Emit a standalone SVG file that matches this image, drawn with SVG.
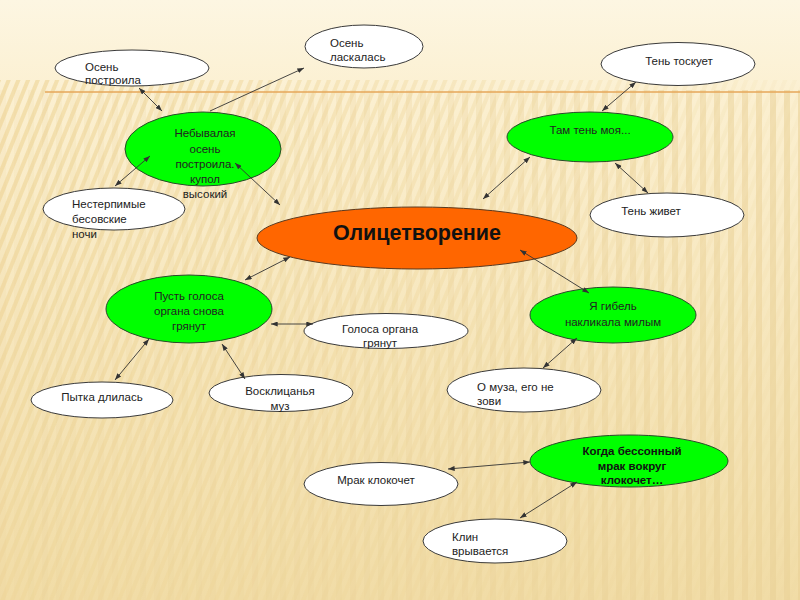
<svg xmlns="http://www.w3.org/2000/svg" width="800" height="600" viewBox="0 0 800 600">
<defs>
<linearGradient id="bg" x1="0" y1="0" x2="0" y2="1">
<stop offset="0" stop-color="#fdf6e2"/>
<stop offset="0.18" stop-color="#fbefcf"/>
<stop offset="1" stop-color="#f1dca6"/>
</linearGradient>
<pattern id="diag" width="9" height="9" patternUnits="userSpaceOnUse" patternTransform="rotate(22)">
<rect width="4" height="9" fill="#efd79c"/>
</pattern>
<pattern id="vert" width="14" height="14" patternUnits="userSpaceOnUse">
<rect width="6" height="14" fill="#e9d096"/>
</pattern>
<linearGradient id="fadeL" x1="0" y1="0" x2="1" y2="0">
<stop offset="0" stop-color="#fff" stop-opacity="0.7"/>
<stop offset="0.6" stop-color="#fff" stop-opacity="0.35"/>
<stop offset="1" stop-color="#fff" stop-opacity="0.1"/>
</linearGradient>
<mask id="mL"><rect x="0" y="80" width="800" height="520" fill="url(#fadeL)"/></mask>
<linearGradient id="fadeR" x1="0" y1="0" x2="1" y2="0">
<stop offset="0" stop-color="#fff" stop-opacity="0.1"/>
<stop offset="0.6" stop-color="#fff" stop-opacity="0.3"/>
<stop offset="1" stop-color="#fff" stop-opacity="0.55"/>
</linearGradient>
<mask id="mR"><rect x="0" y="90" width="800" height="510" fill="url(#fadeR)"/></mask>
<marker id="ah" viewBox="0 0 8 6" refX="8" refY="3" markerWidth="7" markerHeight="5" markerUnits="userSpaceOnUse" orient="auto-start-reverse">
<path d="M0,0 L8,3 L0,6 z" fill="#333"/>
</marker>
</defs>
<style>
.w{fill:#ffffff;stroke:#3a3a3a;stroke-width:1}
.g{fill:#00ff00;stroke:#2a4a2a;stroke-width:1}
.o{fill:#ff6600;stroke:#5a3a20;stroke-width:1}
text{font-family:"Liberation Sans",Arial,sans-serif;font-size:11.5px;fill:#222}
.c{text-anchor:middle}
.b{font-weight:bold;fill:#111}
.big{font-size:21.5px;font-weight:bold;fill:#111}
#connectors line{stroke:#333;stroke-width:0.9}
.two{marker-start:url(#ah);marker-end:url(#ah)}
.one{marker-end:url(#ah)}
</style>
<rect width="800" height="600" fill="url(#bg)"/>
<rect x="0" y="80" width="800" height="520" fill="url(#diag)" mask="url(#mL)"/>
<rect x="0" y="90" width="800" height="510" fill="url(#vert)" mask="url(#mR)"/>
<line x1="45" y1="92" x2="800" y2="92" stroke="#e6a75a" stroke-width="1.5"/>

<g id="n-osen-postroila">
<ellipse class="w" cx="132" cy="68" rx="77" ry="18"/>
<text x="85" y="71">Осень</text>
<text x="85" y="84">построила</text>
</g>
<g id="n-osen-laskalas">
<ellipse class="w" cx="364" cy="46.5" rx="59" ry="21.5"/>
<text x="330" y="47">Осень</text>
<text x="330" y="61">ласкалась</text>
</g>
<g id="n-nebyvalaya">
<ellipse class="g" cx="203" cy="149" rx="78" ry="37"/>
<text class="c" x="205" y="137">Небывалая</text>
<text class="c" x="205" y="153">осень</text>
<text class="c" x="205" y="168">построила.</text>
<text class="c" x="205" y="183">купол</text>
<text class="c" x="205" y="198">высокий</text>
</g>
<g id="n-nesterpimye">
<ellipse class="w" cx="114" cy="209" rx="71" ry="21"/>
<text x="72" y="208">Нестерпимые</text>
<text x="72" y="223">бесовские</text>
<text x="72" y="238">ночи</text>
</g>
<g id="n-olicetvorenie">
<ellipse class="o" cx="417" cy="238" rx="160" ry="31"/>
<text class="big c" x="417" y="240">Олицетворение</text>
</g>
<g id="n-tam-ten">
<ellipse class="g" cx="590" cy="137" rx="83" ry="25"/>
<text class="c" x="590" y="134">Там тень моя...</text>
</g>
<g id="n-ten-toskuet">
<ellipse class="w" cx="678" cy="64" rx="77" ry="21.5"/>
<text class="c" x="679" y="65">Тень тоскует</text>
</g>
<g id="n-ten-zhivet">
<ellipse class="w" cx="667" cy="215" rx="77" ry="22"/>
<text class="c" x="651" y="215">Тень живет</text>
</g>
<g id="n-pust-golosa">
<ellipse class="g" cx="189" cy="309" rx="83" ry="34"/>
<text class="c" x="189" y="300">Пусть голоса</text>
<text class="c" x="189" y="315">органа снова</text>
<text class="c" x="189" y="330">грянут</text>
</g>
<g id="n-golosa-organa">
<ellipse class="w" cx="386" cy="331" rx="82" ry="17.5"/>
<text class="c" x="380" y="333">Голоса органа</text>
<text class="c" x="380" y="347">грянут</text>
</g>
<g id="n-pytka">
<ellipse class="w" cx="102" cy="400" rx="71" ry="18"/>
<text class="c" x="102" y="401">Пытка длилась</text>
</g>
<g id="n-vosklicanya">
<ellipse class="w" cx="281" cy="393" rx="72" ry="18.5"/>
<text class="c" x="280" y="395">Восклицанья</text>
<text class="c" x="280" y="410">муз</text>
</g>
<g id="n-ya-gibel">
<ellipse class="g" cx="613" cy="315" rx="83" ry="28"/>
<text class="c" x="613" y="310">Я гибель</text>
<text class="c" x="613" y="326">накликала милым</text>
</g>
<g id="n-o-muza">
<ellipse class="w" cx="524" cy="390" rx="77" ry="22"/>
<text x="477" y="391">О муза, его не</text>
<text x="477" y="405">зови</text>
</g>
<g id="n-kogda">
<ellipse class="g" cx="629" cy="461" rx="99" ry="26"/>
<text class="c b" x="632" y="455">Когда бессонный</text>
<text class="c b" x="632" y="470">мрак вокруг</text>
<text class="c b" x="632" y="484">клокочет…</text>
</g>
<g id="n-mrak">
<ellipse class="w" cx="381" cy="484" rx="77" ry="21.5"/>
<text class="c" x="376" y="484">Мрак клокочет</text>
</g>
<g id="n-klin">
<ellipse class="w" cx="495" cy="541" rx="72" ry="22"/>
<text x="452" y="541">Клин</text>
<text x="452" y="555">врывается</text>
</g>

<g id="connectors">
<line class="two" x1="139" y1="88" x2="162" y2="111"/>
<line class="one" x1="210" y1="111" x2="304" y2="68"/>
<line class="two" x1="115" y1="186" x2="150" y2="156"/>
<line class="two" x1="235" y1="163" x2="280" y2="205"/>
<line class="two" x1="636" y1="82" x2="602" y2="111"/>
<line class="two" x1="530" y1="157" x2="483" y2="199"/>
<line class="two" x1="615" y1="163" x2="648" y2="193"/>
<line class="two" x1="290" y1="257" x2="245" y2="280"/>
<line class="two" x1="271" y1="324" x2="313" y2="324"/>
<line class="two" x1="149" y1="339" x2="115" y2="380"/>
<line class="two" x1="222" y1="344" x2="245" y2="379"/>
<line class="two" x1="520" y1="250" x2="589" y2="293"/>
<line class="two" x1="577" y1="338" x2="543" y2="368"/>
<line class="two" x1="530" y1="462" x2="448" y2="469"/>
<line class="two" x1="577" y1="482" x2="520" y2="518"/>
</g>
</svg>
